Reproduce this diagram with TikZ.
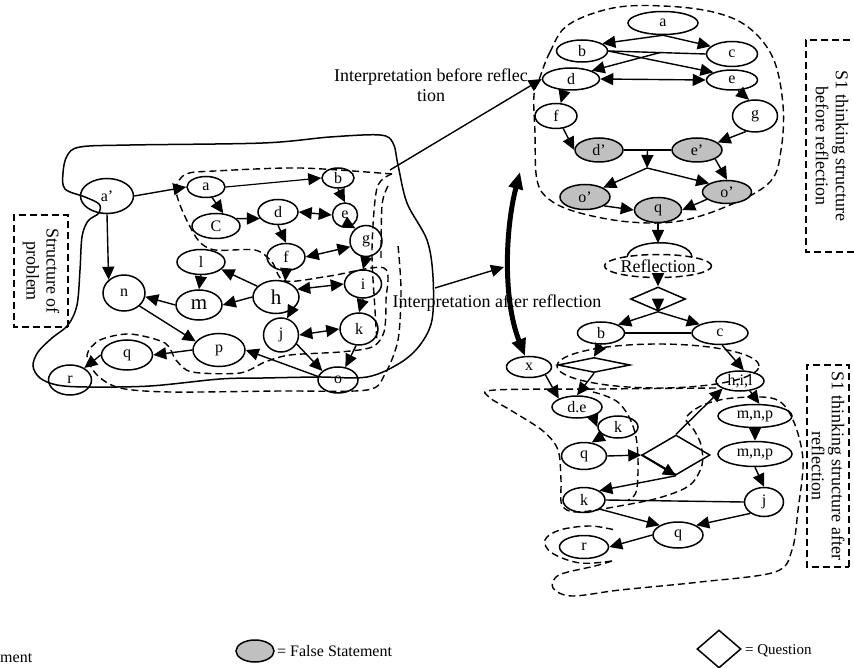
\documentclass[tikz,border=0pt]{standalone}
\usepackage{fontspec}
\setmainfont{Liberation Serif}
\usetikzlibrary{arrows.meta,shapes.geometric,calc}
\definecolor{fgray}{RGB}{192,192,192}
\begin{document}
\begin{tikzpicture}[x=1pt,y=-1pt,
 nd/.style={draw,ellipse,line width=1.5pt,inner sep=0pt,font=\fontsize{16}{16}\selectfont},
 gnd/.style={nd,fill=fgray},
 dm/.style={draw,diamond,line width=1.5pt,inner sep=0pt},
 sz/.style 2 args={minimum width=#1pt,minimum height=#2pt},
 big/.style={font=\fontsize{21}{21}\selectfont},
 arr/.style={line width=1.4pt,-{Triangle[length=13pt,width=12pt]}},
 darr/.style={line width=1.4pt,{Triangle[length=13pt,width=12pt]}-{Triangle[length=13pt,width=12pt]}},
 ln/.style={line width=1.4pt},
 dsh/.style={line width=1.4pt,dash pattern=on 7pt off 4pt},
 lab/.style={font=\fontsize{18}{20}\selectfont,align=center,inner sep=0pt},
 leg/.style={font=\fontsize{16}{16}\selectfont,inner sep=0pt},
 tarr/.style={line width=5pt,{Triangle[length=17pt,width=14pt]}-{Triangle[length=17pt,width=14pt]}}
]
\useasboundingbox (0,0) rectangle (854,668);

% ---------- left: problem structure ----------
\draw[line width=1.5pt] plot[smooth cycle, tension=0.55] coordinates {(63,173) (67,156) (80,147) (130,145) (263,143) (330,137) (380,135) (393,143) (398,165) (407,203) (427,240) (433,277) (432,320) (420,345) (400,363) (367,377) (318,377) (263,378) (220,379) (150,386) (87,387) (57,385) (40,378) (33,366) (38,352) (52,338) (68,325) (77,305) (80,270) (82,237) (88,221) (99,213) (99,204) (85,197) (65,189)};

\draw[dsh] plot[smooth, tension=0.5] coordinates {(392,174) (300,168) (215,171) (186,174) (176,188) (182,210) (198,240) (215,250) (255,250) (272,262) (285,281) (330,276) (384,268) (386,300) (384,332) (372,347) (340,352) (290,355) (265,362) (240,373) (192,372) (176,360) (165,343) (130,334) (100,340) (87,355) (97,375) (120,388) (170,392) (280,391) (367,390) (385,374) (398,340) (401,290) (398,245)};
\draw[dsh] plot[smooth, tension=0.5] coordinates {(392,174) (377,188) (372,250) (375,310) (377,342)};
\draw[dsh] plot[smooth, tension=0.5] coordinates {(388,186) (382,205) (381,260)};

\node[nd,sz={53}{35}] (Lap) at (107,196) {a’};
\node[nd,sz={38}{21}] (La) at (206,187) {a};
\node[nd,sz={32}{20}] (Lb) at (338,178) {b};
\node[nd,sz={48}{25}] (LC) at (216,226) {C};
\node[nd,sz={40}{25}] (Ld) at (278,212) {d};
\node[nd,sz={25}{24}] (Le) at (345,215) {e};
\node[nd,sz={32}{31}] (Lg) at (366,241) {g};
\node[nd,sz={38}{27}] (Lf) at (286,257) {f};
\node[nd,sz={48}{25}] (Ll) at (201,262) {l};
\node[nd,sz={46}{30},big] (Lm) at (199,305) {m};
\node[nd,sz={46}{33},big] (Lh) at (276,297) {h};
\node[nd,sz={37}{28}] (Li) at (363,284) {i};
\node[nd,sz={38}{32}] (Lk) at (359,329) {k};
\node[nd,sz={35}{34}] (Lj) at (281,335) {j};
\node[nd,sz={52}{33}] (Lp) at (219,350) {p};
\node[nd,sz={40}{26}] (Lo) at (338,380) {o};
\node[nd,sz={42}{36}] (Ln) at (124,293) {n};
\node[nd,sz={51}{30}] (Lq) at (127,355) {q};
\node[nd,sz={43}{30}] (Lr) at (70,380) {r};

\draw[arr] (Lap.east) -- (La.west);
\draw[arr] (Lap.south) -- (Ln.north west);
\draw[line width=1.2pt,-{Triangle[length=13pt,width=12pt]}] (La.east) -- (Lb.west);
\draw[arr] (La.-60) -- (LC.60);
\draw[arr] (LC.20) -- (Ld.200);
\draw[darr] (Ld.east) -- (Le.west);
\draw[arr] (Lb.south) -- (Le.north);
\draw[arr] (Le.-60) -- (Lg.130);
\draw[arr] (Ld.south) -- (Lf.north);
\draw[darr] (Lf.east) -- (Lg.200);
\draw[arr] (Lg.south) -- (Li.north);
\draw[arr] (Lh.150) -- (Ll.-20);
\draw[arr] (Ll.south) -- (Lm.north);
\draw[arr] (Lh.west) -- (Lm.east);
\draw[arr] (Lf.south) -- (Lh.60);
\draw[darr] (Lh.20) -- (Li.west);
\draw[arr] (Lh.-40) -- (Lj.70);
\draw[arr] (Li.south) -- (Lk.north);
\draw[darr] (Lj.east) -- (Lk.west);
\draw[arr] (Lj.-30) -- (Lo.150);
\draw[arr] (Lk.-100) -- (Lo.60);
\draw[arr] (Lo.170) -- (Lp.east);
\draw[arr] (Lm.west) -- (Ln.-10);
\draw[arr] (Ln.-40) -- (Lp.160);
\draw[arr] (Lp.west) -- (Lq.east);
\draw[arr] (Lq.west) -- (Lr.40);

\node[lab,draw,dsh,rotate=-90,minimum width=112pt,minimum height=54pt] (SP) at (41,271) {Structure of\\problem};

% ---------- top right: before reflection ----------
\draw[dsh] plot[smooth cycle, tension=0.6] coordinates {(540,77) (550,52) (568,25) (613,8) (663,6) (713,12) (748,27) (773,58) (783,105) (781,150) (770,182) (730,205) (680,221) (630,222) (580,213) (550,200) (537,180) (535,133) (534,95)};

\node[nd,sz={70}{23}] (Ta) at (663,23) {a};
\node[nd,sz={51}{22}] (Tb) at (582,51) {b};
\node[nd,sz={51}{25}] (Tc) at (732,54) {c};
\node[nd,sz={57}{22}] (Td) at (571,79) {d};
\node[nd,sz={51}{20}] (Te) at (732,80) {e};
\node[nd,sz={42}{25}] (Tf) at (556,116) {f};
\node[nd,sz={45}{32}] (Tg) at (755,116) {g};
\node[gnd,sz={48}{24}] (Tdp) at (599,150) {d’};
\node[gnd,sz={50}{24}] (Tep) at (697,150) {e’};
\node[gnd,sz={50}{25}] (Tol) at (585,197) {o’};
\node[gnd,sz={49}{23}] (Tor) at (727,192) {o’};
\node[gnd,sz={47}{25}] (Tq) at (658,210) {q};

\draw[arr] (Ta.south) -- (Tb.20);
\draw[arr] (Ta.south) -- (Tc.160);
\draw[ln] (Tb.east) -- (Tc.west);
\draw[arr] (Tb.east) -- (Te.north west);
\draw[arr] ($(Tb.east)!0.53!(Tc.west)$) -- (Td.north east);
\draw[darr] (Td.east) -- (Te.west);
\draw[arr] (Td.240) -- (Tf.70);
\draw[arr] (Te.300) -- (Tg.110);
\draw[arr] (Tf.300) -- (Tdp.west);
\draw[arr] (Tg.240) -- (Tep.20);
\draw[ln] (Tdp.east) -- (Tep.west);
\coordinate (Tj) at (647,168);
\draw[arr] ($(Tdp.east)!0.5!(Tep.west)$) -- (Tj);
\draw[arr] (Tj) -- (Tol.north east);
\draw[arr] (Tj) -- (Tor.north west);
\draw[arr] (Tep.south east) -- (Tor.north);
\draw[arr] (Tol.-25) -- (Tq.west);
\draw[arr] (Tor.200) -- (Tq.east);

\node[lab,draw,dsh,rotate=-90,minimum width=212pt,minimum height=52pt] (S1a) at (832,146) {S1 thinking structure\\before reflection};

% ---------- interpretation arrows ----------
\node[lab] (IBt) at (431,85) {Interpretation before reflec\\tion};
\coordinate (IBs) at (390,170);
\draw[arr] (IBs) -- (Td.west);
\node[lab] (IAt) at (497,303) {Interpretation after reflection};
\coordinate (IAs) at (435,288);
\coordinate (IAe) at (504,267);
\draw[arr] (IAs) -- (IAe);

% ---------- lower right: after reflection ----------
\draw[dsh] (658,366) ellipse [x radius=101pt, y radius=22pt];
\draw[dsh] plot[smooth, tension=0.55] coordinates {(716,388) (600,389) (495,390) (489,397) (512,411) (543,431) (558,450) (561,480) (562,505) (578,512) (625,505) (662,497) (690,485) (702,465) (701,445) (694,430) (686,418) (703,405) (733,398) (775,399) (793,420) (803,460) (798,510) (792,550) (775,572) (700,582) (620,590) (572,596) (553,588) (559,575) (595,566) (612,561)};
\draw[dsh] plot[smooth, tension=0.6] coordinates {(612,561) (580,563) (552,553) (545,540) (560,530) (590,526) (615,530)};
\draw[dsh] plot[smooth, tension=0.6] coordinates {(593,392) (620,404) (636,437) (637,488) (628,500)};

\node[nd,dash pattern=on 7pt off 4pt,sz={107}{23},font=\fontsize{18}{18}\selectfont] (Rref) at (658,266) {Reflection};
\draw[line width=1.5pt] (627,257) .. controls (630,238) and (690,238) .. (692,257);
\coordinate (RrefTop) at (658,243);
\node[dm,sz={55}{24}] (Rdm1) at (658,299) {};
\node[nd,sz={47}{22}] (Rb) at (601,333) {b};
\node[nd,sz={56}{23}] (Rc) at (720,333) {c};
\node[dm,sz={72}{15}] (Rdm2) at (594,365) {};
\node[nd,sz={45}{21}] (Rx) at (529,367) {x};
\node[nd,sz={48}{20}] (Rhil) at (740,381) {h,i,l};
\node[nd,sz={50}{22}] (Rde) at (577,407) {d.e};
\node[nd,sz={40}{22}] (Rk) at (618,427) {k};
\node[nd,sz={45}{27}] (Rq) at (584,456) {q};
\node[dm,sz={68}{40}] (Rdm3) at (676,455) {};
\node[nd,sz={74}{23}] (Rmnp1) at (755,416) {m,n,p};
\node[nd,sz={74}{25}] (Rmnp2) at (755,454) {m,n,p};
\node[nd,sz={39}{29}] (Rj) at (764,502) {j};
\node[nd,sz={42}{25}] (Rk2) at (584,500) {k};
\node[nd,sz={50}{26}] (Rq2) at (678,535) {q};
\node[nd,sz={49}{23}] (Rr) at (584,547) {r};

\draw[arr] (Tq.south) -- (RrefTop);
\draw[arr] (Rref.south) -- (Rdm1.north);
\draw[arr] (Rdm1.center) -- (Rdm1.south);
\draw[arr] (Rdm1.south) -- (Rb.north east);
\draw[arr] (Rdm1.south) -- (Rc.north west);
\draw[ln] (Rb.east) -- (Rc.west);
\draw[arr] (Rb.south) -- (Rdm2.north);
\draw[arr] (Rdm2.south) -- (Rde.north);
\draw[arr] (Rc.280) -- (Rhil.70);
\draw[arr] (Rx.south east) -- (Rde.north west);
\draw[arr] (Rde.-30) -- (Rk.west);
\draw[arr] (Rk.south west) -- (Rq.60);
\draw[arr] (Rq.east) -- (Rdm3.west);
\draw[arr] (Rdm3.north) -- (Rhil.south west);
\draw[arr] (Rdm3.west) -- (Rdm3.south);
\draw[arr] (Rdm3.south) -- (Rk2.north east);
\draw[arr] (Rhil.-45) -- (Rmnp1.70);
\draw[arr] (Rmnp1.south) -- (Rmnp2.north);
\draw[arr] (Rmnp2.south) -- (Rj.north);
\draw[ln] (Rk2.east) -- (Rj.west);
\draw[arr] (Rk2.-30) -- (Rq2.north west);
\draw[arr] (Rj.220) -- (Rq2.north east);
\draw[arr] (Rq2.west) -- (Rr.east);

\coordinate (Ttop) at (520,172);
\draw[tarr] (Ttop) .. controls (505,230) and (503,300) .. (Rx.110);

\node[lab,draw,dsh,rotate=-90,minimum width=202pt,minimum height=42pt] (S1b) at (828,466) {S1 thinking structure after\\reflection};

% ---------- legend ----------
\node[leg,anchor=base west] (LGt) at (0,662) {ment};
\node[gnd,sz={38}{22}] (LGf) at (255,651) {};
\node[leg,anchor=west] (LGft) at (277,651) {= False Statement};
\node[dm,sz={44}{38}] (LGq) at (719,649) {};
\node[leg,anchor=west,font=\fontsize{15}{15}\selectfont] (LGqt) at (745,651) {= Question};
\end{tikzpicture}
\end{document}
